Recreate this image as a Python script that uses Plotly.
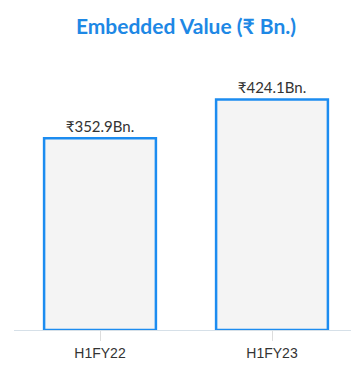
import plotly.graph_objects as go

categories = ["H1FY22", "H1FY23"]
values = [352.9, 424.1]
value_labels = ["₹352.9Bn.", "₹424.1Bn."]

fig = go.Figure(go.Bar(
    x=categories, y=values, text=value_labels, textposition="outside",
    cliponaxis=False, width=0.65,
    marker=dict(color="#f4f4f4", line=dict(color="#1c8cf0", width=2.5)),
    textfont=dict(family="Lato", size=15, color="#333333"),
))
fig.update_layout(
    width=351, height=371, margin=dict(l=6, r=1, t=42, b=49),
    paper_bgcolor="white", plot_bgcolor="white", showlegend=False,
    title=dict(text="<b>Embedded Value (₹ Bn.)</b>", x=0.507, xanchor="center", y=0.949, yanchor="middle",
               font=dict(family="Lato", size=21, color="#1e88e5")),
    xaxis=dict(showline=True, linecolor="#d6e0e8", linewidth=1, ticks="outside", ticklen=10,
               tickcolor="#dddddd", tickfont=dict(family="Liberation Sans", size=14, color="#333333"),
               showgrid=False),
    yaxis=dict(range=[0, 515], visible=False, showgrid=False),
)
fig.write_html("out.html")
